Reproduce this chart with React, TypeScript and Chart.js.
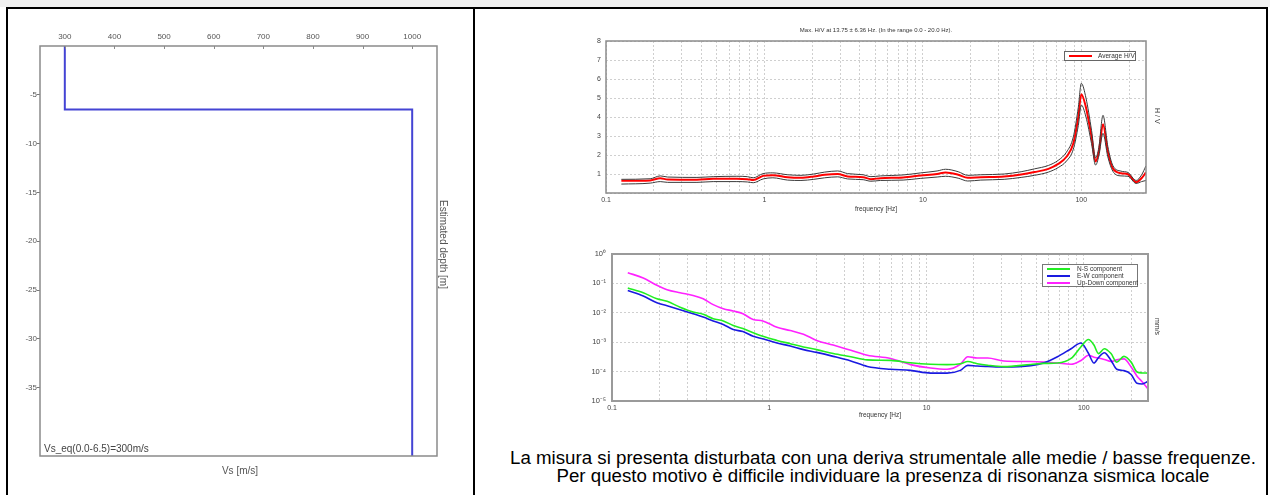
import React, { useEffect, useRef } from "react";
import { Chart, registerables } from "chart.js";

Chart.register(...registerables);

const FONT = "'Liberation Sans', Arial, sans-serif";
const NARROW = "'Liberation Sans Narrow', 'Liberation Sans', Arial, sans-serif";

// ---------- Vs profile ----------
const layerVs = [300, 1000];
const layerTop = [0, -6.5];
const layerBottom = [-6.5, -42];
const vsTicks = [300, 400, 500, 600, 700, 800, 900, 1000];
const depthTicks = [-5, -10, -15, -20, -25, -30, -35];

// ---------- H/V ----------
const hvFreq = [0.125, 0.19, 0.22, 0.245, 0.375, 0.475, 0.67, 0.78, 0.85, 0.98, 1.13, 1.4, 1.7, 2.05, 2.4, 2.9, 3.35, 4.2, 4.7, 5.4, 7.5, 9.7, 12.3, 13.9, 16.7, 19.2, 23.2, 32.6, 41.7, 50.6, 62, 71.5, 80.6, 89, 95.7, 100, 107, 116, 123, 129, 137, 147, 158, 178, 197, 222, 240, 256];
const hvAvg = [0.64, 0.66, 0.78, 0.71, 0.7, 0.75, 0.75, 0.73, 0.68, 0.9, 0.94, 0.83, 0.8, 0.87, 0.96, 1.0, 0.87, 0.83, 0.73, 0.78, 0.82, 0.92, 1.0, 1.08, 0.96, 0.8, 0.83, 0.87, 0.97, 1.1, 1.27, 1.53, 1.91, 2.6, 4.0, 5.2, 4.5, 2.96, 1.66, 2.17, 3.62, 2.17, 1.3, 1.04, 0.99, 0.57, 0.78, 1.08];
const hvUpper = [0.72, 0.75, 0.9, 0.84, 0.82, 0.86, 0.88, 0.86, 0.8, 1.02, 1.06, 0.96, 0.93, 1.0, 1.1, 1.16, 1.02, 0.96, 0.86, 0.9, 0.95, 1.06, 1.16, 1.25, 1.12, 0.93, 0.96, 1.0, 1.12, 1.27, 1.45, 1.72, 2.15, 2.95, 4.5, 5.77, 5.0, 3.3, 1.85, 2.4, 4.09, 2.45, 1.45, 1.15, 1.08, 0.66, 0.95, 1.43];
const hvLower = [0.47, 0.52, 0.6, 0.56, 0.56, 0.6, 0.6, 0.58, 0.54, 0.74, 0.8, 0.68, 0.66, 0.72, 0.8, 0.85, 0.74, 0.7, 0.62, 0.66, 0.68, 0.77, 0.84, 0.88, 0.78, 0.63, 0.68, 0.72, 0.82, 0.93, 1.1, 1.34, 1.68, 2.3, 3.55, 4.63, 4.0, 2.6, 1.47, 1.95, 3.14, 1.9, 1.15, 0.9, 0.88, 0.5, 0.6, 0.66];
const hvYTicks = [0, 1, 2, 3, 4, 5, 6, 7, 8];

// ---------- shared log frequency axis ----------
const freqGrid = [0.1, 0.2, 0.3, 0.4, 0.5, 0.6, 0.7, 0.8, 0.9, 1, 2, 3, 4, 5, 6, 7, 8, 9, 10, 20, 30, 40, 50, 60, 70, 80, 90, 100, 200];
const freqDecades = [0.1, 1, 10, 100];
const freqDecadeLabels = ["0.1", "1", "10", "100"];

// ---------- spectra ----------
const specFreq = [0.126, 0.158, 0.193, 0.224, 0.271, 0.328, 0.38, 0.44, 0.51, 0.59, 0.68, 0.79, 0.91, 1.12, 1.36, 1.65, 2.0, 2.55, 3.3, 4.2, 5.9, 7.9, 10.6, 13.5, 16.4, 18.3, 21, 24.5, 31, 46, 56, 68, 83, 96, 107, 116, 124, 135, 149, 162, 180, 200, 218, 235, 256];
const nsComp = [0.07, 0.048, 0.03, 0.0245, 0.0155, 0.0106, 0.0089, 0.0063, 0.0053, 0.0037, 0.0029, 0.0021, 0.00158, 0.00115, 0.00089, 0.00069, 0.00056, 0.00041, 0.00032, 0.00025, 0.00024, 0.0002, 0.000178, 0.000173, 0.000186, 0.00022, 0.000186, 0.000165, 0.000148, 0.000175, 0.00019, 0.000195, 0.00028, 0.0007, 0.00123, 0.0008, 0.00041, 0.0006, 0.00041, 0.00021, 0.00033, 0.00021, 0.000097, 0.00009, 0.000089];
const ewComp = [0.057, 0.037, 0.022, 0.0174, 0.0128, 0.0093, 0.0072, 0.0053, 0.004, 0.0027, 0.0023, 0.0016, 0.0013, 0.00094, 0.00074, 0.00056, 0.00045, 0.00033, 0.00023, 0.00015, 0.00012, 0.00011, 0.000089, 0.000089, 0.00011, 0.000163, 0.000155, 0.00015, 0.000144, 0.00016, 0.0002, 0.00032, 0.0006, 0.00094, 0.00042, 0.000195, 0.0003, 0.00044, 0.00024, 0.00012, 0.000108, 0.00008, 0.00004, 0.000038, 0.000047];
const udComp = [0.23, 0.153, 0.086, 0.061, 0.048, 0.039, 0.03, 0.019, 0.0138, 0.0115, 0.0093, 0.0059, 0.0053, 0.0032, 0.0025, 0.00186, 0.00115, 0.0008, 0.00053, 0.00036, 0.00028, 0.000173, 0.000132, 0.00012, 0.000178, 0.00032, 0.00029, 0.00029, 0.00023, 0.00022, 0.00021, 0.000195, 0.000178, 0.00024, 0.00036, 0.00031, 0.00029, 0.00026, 0.00022, 0.00025, 0.00027, 0.000144, 0.00007, 0.000045, 0.000026];
const specYTicks = [1e-5, 1e-4, 1e-3, 1e-2, 1e-1, 1];
const specYLabels = ["10⁻⁵", "10⁻⁴", "10⁻³", "10⁻²", "10⁻¹", "10⁰"];

const framePlugin = (color: string, width: number, innerTicks?: number[]) => ({
  id: "frame",
  afterDraw(chart: any) {
    const { ctx, chartArea: a } = chart;
    ctx.save();
    ctx.strokeStyle = color;
    ctx.lineWidth = width;
    ctx.strokeRect(a.left, a.top, a.right - a.left, a.bottom - a.top);
    if (innerTicks) {
      ctx.lineWidth = 1;
      const xs = chart.scales.x;
      innerTicks.forEach((v) => {
        const px = Math.round(xs.getPixelForValue(v)) + 0.5;
        ctx.beginPath();
        ctx.moveTo(px, a.top);
        ctx.lineTo(px, a.top + 3);
        ctx.stroke();
      });
    }
    ctx.restore();
  },
});

const logXAxis = (height: number) => ({
  type: "logarithmic" as const,
  min: 0.1,
  max: 256,
  afterBuildTicks: (s: any) => {
    s.ticks = freqGrid.map((v) => ({ value: v }));
  },
  afterFit: (s: any) => {
    s.height = height;
  },
  grid: { color: "#cfcfcf", lineWidth: 1, drawTicks: false },
  border: { display: false, dash: [2, 2] },
  ticks: {
    autoSkip: false,
    maxRotation: 0,
    padding: 3,
    color: "#444",
    font: { family: FONT, size: 7 },
    callback: (v: any) => {
      const i = freqDecades.indexOf(Number(v));
      return i >= 0 ? freqDecadeLabels[i] : "";
    },
  },
});

export default function App() {
  const vsRef = useRef<HTMLCanvasElement>(null);
  const hvRef = useRef<HTMLCanvasElement>(null);
  const spRef = useRef<HTMLCanvasElement>(null);

  useEffect(() => {
    const profile: { x: number; y: number }[] = [];
    layerVs.forEach((v, i) => {
      profile.push({ x: v, y: layerTop[i] });
      profile.push({ x: v, y: layerBottom[i] });
    });

    const vsChart = new Chart(vsRef.current as HTMLCanvasElement, {
      type: "scatter",
      data: {
        datasets: [
          {
            data: profile,
            showLine: true,
            borderColor: "#4444d4",
            borderWidth: 2,
            pointRadius: 0,
            tension: 0,
          },
        ],
      },
      options: {
        animation: false,
        responsive: false,
        maintainAspectRatio: false,
        layout: { padding: { left: 0, top: 0, right: 31, bottom: 34 } },
        plugins: { legend: { display: false }, tooltip: { enabled: false } },
        scales: {
          x: {
            type: "linear",
            position: "top",
            min: 250,
            max: 1050,
            afterBuildTicks: (s: any) => {
              s.ticks = vsTicks.map((v) => ({ value: v }));
            },
            afterFit: (s: any) => {
              s.height = 36;
            },
            grid: { display: false, drawTicks: false },
            border: { display: false },
            ticks: {
              autoSkip: false,
              maxRotation: 0,
              padding: 4,
              color: "#555",
              font: { family: NARROW, size: 8 },
              callback: (v: any) => String(v),
            },
          },
          y: {
            type: "linear",
            min: -42,
            max: 0,
            afterBuildTicks: (s: any) => {
              s.ticks = depthTicks.map((v) => ({ value: v }));
            },
            afterFit: (s: any) => {
              s.width = 32;
            },
            grid: { drawOnChartArea: false, drawTicks: true, tickLength: 3, color: "#777" },
            border: { display: false },
            ticks: {
              autoSkip: false,
              padding: 0,
              color: "#555",
              font: { family: NARROW, size: 8 },
              callback: (v: any) => String(v),
            },
          },
        },
      },
      plugins: [framePlugin("#8a8a8a", 1.5, vsTicks)],
    } as any);

    const hvChart = new Chart(hvRef.current as HTMLCanvasElement, {
      type: "line",
      data: {
        datasets: [
          {
            data: hvFreq.map((f, i) => ({ x: f, y: hvUpper[i] })),
            borderColor: "#3a3a3a",
            borderWidth: 1,
            pointRadius: 0,
            cubicInterpolationMode: "monotone",
          },
          {
            data: hvFreq.map((f, i) => ({ x: f, y: hvLower[i] })),
            borderColor: "#3a3a3a",
            borderWidth: 1,
            pointRadius: 0,
            cubicInterpolationMode: "monotone",
          },
          {
            data: hvFreq.map((f, i) => ({ x: f, y: hvAvg[i] })),
            borderColor: "#ff0000",
            borderWidth: 2,
            pointRadius: 0,
            cubicInterpolationMode: "monotone",
          },
        ],
      },
      options: {
        animation: false,
        responsive: false,
        maintainAspectRatio: false,
        layout: { padding: { left: 0, top: 21, right: 120, bottom: 0 } },
        plugins: { legend: { display: false }, tooltip: { enabled: false } },
        scales: {
          x: logXAxis(22),
          y: {
            type: "linear",
            min: 0,
            max: 8,
            afterBuildTicks: (s: any) => {
              s.ticks = hvYTicks.map((v) => ({ value: v }));
            },
            afterFit: (s: any) => {
              s.width = 126;
            },
            grid: { color: "#cfcfcf", lineWidth: 1, drawTicks: false },
            border: { display: false, dash: [2, 2] },
            ticks: {
              autoSkip: false,
              padding: 5,
              color: "#444",
              font: { family: FONT, size: 7 },
              callback: (v: any) => (Number(v) === 0 ? "" : String(v)),
            },
          },
        },
      },
      plugins: [framePlugin("#8c8c8c", 1.5)],
    } as any);

    const spChart = new Chart(spRef.current as HTMLCanvasElement, {
      type: "line",
      data: {
        datasets: [
          {
            data: specFreq.map((f, i) => ({ x: f, y: nsComp[i] })),
            borderColor: "#22ee22",
            borderWidth: 1.6,
            pointRadius: 0,
            cubicInterpolationMode: "monotone",
          },
          {
            data: specFreq.map((f, i) => ({ x: f, y: ewComp[i] })),
            borderColor: "#1a1ae0",
            borderWidth: 1.6,
            pointRadius: 0,
            cubicInterpolationMode: "monotone",
          },
          {
            data: specFreq.map((f, i) => ({ x: f, y: udComp[i] })),
            borderColor: "#ff22ff",
            borderWidth: 1.6,
            pointRadius: 0,
            cubicInterpolationMode: "monotone",
          },
        ],
      },
      options: {
        animation: false,
        responsive: false,
        maintainAspectRatio: false,
        layout: { padding: { left: 0, top: 29, right: 118, bottom: 0 } },
        plugins: { legend: { display: false }, tooltip: { enabled: false } },
        scales: {
          x: logXAxis(19),
          y: {
            type: "logarithmic",
            min: 1e-5,
            max: 1,
            afterBuildTicks: (s: any) => {
              s.ticks = specYTicks.map((v) => ({ value: v }));
            },
            afterFit: (s: any) => {
              s.width = 132;
            },
            grid: { color: "#cfcfcf", lineWidth: 1, drawTicks: false },
            border: { display: false, dash: [2, 2] },
            ticks: {
              autoSkip: false,
              padding: 6,
              color: "#444",
              font: { family: FONT, size: 7.5 },
              callback: (v: any) => {
                const i = specYTicks.findIndex((t) => Math.abs(t - Number(v)) < t * 1e-6);
                return i >= 0 ? specYLabels[i] : "";
              },
            },
          },
        },
      },
      plugins: [framePlugin("#9a9a9a", 2)],
    } as any);

    return () => {
      vsChart.destroy();
      hvChart.destroy();
      spChart.destroy();
    };
  }, []);

  const abs = (s: React.CSSProperties): React.CSSProperties => ({ position: "absolute", ...s });
  const small = { fontFamily: FONT, color: "#333", whiteSpace: "nowrap" as const };

  return (
    <div style={{ position: "fixed", left: 0, top: 0, width: 1270, height: 495, background: "#fff", overflow: "hidden" }}>
      {/* table frame */}
      <div style={abs({ left: 0, top: 0, width: 1270, height: 7, background: "#f0f0f0" })} />
      <div style={abs({ left: 6, top: 7, width: 1262, height: 2, background: "#000" })} />
      <div style={abs({ left: 6, top: 7, width: 2, height: 488, background: "#000" })} />
      <div style={abs({ left: 473, top: 7, width: 2, height: 488, background: "#000" })} />
      <div style={abs({ left: 1266, top: 7, width: 2, height: 488, background: "#000" })} />

      {/* Vs profile */}
      <canvas ref={vsRef} width={460} height={480} style={abs({ left: 8, top: 10, width: 460, height: 480 })} />
      <div style={abs({ ...small, left: 44, top: 443, fontSize: 10, color: "#444", fontFamily: NARROW })}>Vs_eq(0.0-6.5)=300m/s</div>
      <div style={abs({ ...small, left: 140, width: 200, textAlign: "center", top: 465, fontSize: 10, color: "#555", fontFamily: NARROW })}>Vs [m/s]</div>
      <div style={abs({ ...small, left: 437, top: 200, width: 12, height: 100, writingMode: "vertical-rl", fontSize: 10, color: "#555", fontFamily: NARROW, lineHeight: "12px" })}>Estimated depth [m]</div>

      {/* H/V */}
      <canvas ref={hvRef} width={786} height={195} style={abs({ left: 480, top: 20, width: 786, height: 195 })} />
      <div style={abs({ ...small, left: 676, width: 400, textAlign: "center", top: 26, fontSize: 6, lineHeight: "8px" })}>
        Max. H/V at 13.75 ± 6.36 Hz. (In the range 0.0 - 20.0 Hz).
      </div>
      <div style={abs({ ...small, left: 826, width: 100, textAlign: "center", top: 205, fontSize: 6.5, lineHeight: "8px" })}>frequency [Hz]</div>
      <div style={abs({ ...small, left: 1153, top: 108, writingMode: "vertical-rl", fontSize: 7, lineHeight: "9px" })}>H / V</div>
      <div style={abs({ left: 1064, top: 51, width: 70, height: 8, border: "1px solid #666", background: "#fff" })}>
        <div style={abs({ left: 4, top: 3, width: 23, height: 2, background: "#ff0000" })} />
        <div style={abs({ ...small, left: 33, top: 0, fontSize: 6.5, lineHeight: "8px" })}>Average H/V</div>
      </div>

      {/* Spectra */}
      <canvas ref={spRef} width={786} height={195} style={abs({ left: 480, top: 225, width: 786, height: 195 })} />
      <div style={abs({ ...small, left: 830, width: 100, textAlign: "center", top: 411, fontSize: 6.5, lineHeight: "8px" })}>frequency [Hz]</div>
      <div style={abs({ ...small, left: 1153, top: 318, writingMode: "vertical-rl", fontSize: 7, lineHeight: "9px" })}>mm/s</div>
      <div style={abs({ left: 1042, top: 264, width: 94, height: 21, border: "1px solid #777", background: "#fff" })}>
        <div style={abs({ left: 4, top: 3, width: 23, height: 2, background: "#22ee22" })} />
        <div style={abs({ ...small, left: 34, top: 0, fontSize: 6.5, lineHeight: "8px" })}>N-S component</div>
        <div style={abs({ left: 4, top: 10, width: 23, height: 2, background: "#1a1ae0" })} />
        <div style={abs({ ...small, left: 34, top: 7, fontSize: 6.5, lineHeight: "8px" })}>E-W component</div>
        <div style={abs({ left: 4, top: 17, width: 23, height: 2, background: "#ff22ff" })} />
        <div style={abs({ ...small, left: 34, top: 14, fontSize: 6.5, lineHeight: "8px" })}>Up-Down component</div>
      </div>

      {/* Note */}
      <div style={abs({ left: 478, top: 449, width: 810, textAlign: "center", fontFamily: FONT, fontSize: 18.7, lineHeight: "18px", color: "#000", whiteSpace: "nowrap" })}>
        La misura si presenta disturbata con una deriva strumentale alle medie / basse frequenze.
        <br />
        Per questo motivo è difficile individuare la presenza di risonanza sismica locale
      </div>
    </div>
  );
}
